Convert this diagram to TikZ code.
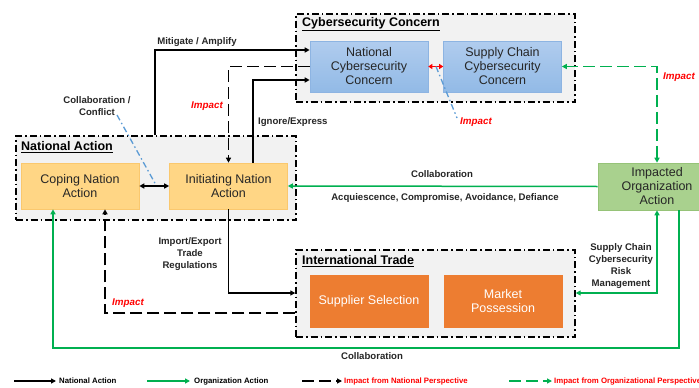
\documentclass[tikz,border=0pt]{standalone}
\usepackage{fontspec}
\setmainfont{Liberation Sans}
\usetikzlibrary{arrows.meta,calc}

\definecolor{grpfill}{RGB}{242,242,242}
\definecolor{cybertop}{RGB}{176,204,238}
\definecolor{cyberbot}{RGB}{146,186,230}
\definecolor{cyberedge}{RGB}{141,180,226}
\definecolor{nationfill}{RGB}{255,214,133}
\definecolor{nationedge}{RGB}{250,200,110}
\definecolor{orgfill}{RGB}{169,209,142}
\definecolor{orgedge}{RGB}{150,195,120}
\definecolor{tradefill}{RGB}{237,125,49}
\definecolor{orggreen}{RGB}{0,176,80}
\definecolor{impactred}{RGB}{255,0,0}
\definecolor{linkblue}{RGB}{91,155,213}
\definecolor{boxtext}{RGB}{38,38,38}

\tikzset{
  group/.style={draw=black, line width=1.4pt, fill=grpfill,
    dash pattern=on 7pt off 3pt on 1.5pt off 3pt},
  grouptitle/.style={anchor=west, inner sep=0pt,
    font=\fontsize{12.5}{14}\selectfont\bfseries},
  box/.style={rectangle, align=center, inner sep=2pt, text=boxtext,
    font=\fontsize{12.5}{14}\selectfont},
  cyberbox/.style={box, top color=cybertop, bottom color=cyberbot,
    draw=cyberedge, line width=0.6pt,
    minimum width=118pt, minimum height=51pt},
  nationbox/.style={box, fill=nationfill, draw=nationedge, line width=0.6pt,
    minimum width=118pt, minimum height=46pt},
  orgbox/.style={box, fill=orgfill, draw=orgedge, line width=0.6pt,
    minimum width=118pt, minimum height=47pt},
  tradebox/.style={box, fill=tradefill, draw=tradefill, text=white,
    minimum width=118pt, minimum height=52pt},
  lbl/.style={align=center, inner sep=0pt, text=boxtext,
    font=\fontsize{9.6}{12}\selectfont\bfseries},
  implbl/.style={inner sep=0pt, text=impactred,
    font=\fontsize{9.8}{12}\selectfont\bfseries\itshape},
  leglbl/.style={anchor=west, inner sep=0pt,
    font=\fontsize{7.8}{9}\selectfont\bfseries},
  tip/.style={-{Triangle[length=5pt,width=5pt]}},
  bothtips/.style={{Triangle[length=5pt,width=5pt]}-{Triangle[length=5pt,width=5pt]}},
  nat/.style={draw=black, line width=1.5pt, tip},
  org/.style={draw=orggreen, line width=1.5pt, tip},
  natimp/.style={draw=black, line width=1.7pt, dash pattern=on 12pt off 5pt, tip},
  orgimp/.style={draw=orggreen, line width=1.7pt, dash pattern=on 12pt off 5pt, tip},
  relation/.style={draw=linkblue, line width=1.3pt,
    dash pattern=on 6pt off 3pt on 1.5pt off 3pt}
}

\begin{document}
\begin{tikzpicture}[x=1pt,y=-1pt]
\useasboundingbox[fill=white] (0,0) rectangle (699,388);

% ---- groups ----
\node[group, minimum width=279pt, minimum height=88pt] (cybgrp) at (435.5,58) {};
\node[group, minimum width=280pt, minimum height=84pt] (natgrp) at (156,178) {};
\node[group, minimum width=279pt, minimum height=87pt] (trdgrp) at (435.5,293.5) {};

\node[grouptitle] (cybtitle) at (302,24) {\underline{Cybersecurity Concern}};
\node[grouptitle] (nattitle) at (21,147) {\underline{National Action}};
\node[grouptitle] (trdtitle) at (302,261) {\underline{International Trade}};

% ---- boxes ----
\node[cyberbox] (natcyb) at (369,66.5) {National\\Cybersecurity\\Concern};
\node[cyberbox] (supcyb) at (502.5,66.5) {Supply Chain\\Cybersecurity\\Concern};
\node[nationbox] (coping) at (80,186) {Coping Nation\\Action};
\node[nationbox] (initiating) at (228.5,186) {Initiating Nation\\Action};
\node[orgbox] (impacted) at (657,186.5) {Impacted\\Organization\\Action};
\node[tradebox] (supsel) at (369,301) {Supplier Selection};
\node[tradebox] (market) at (503,301) {Market\\Possession};

% ---- bend points ----
\coordinate (mitigate) at (155,50);
\coordinate (ignore) at (253,80);
\coordinate (natimpact) at (228.5,66.5);
\coordinate (orgimpact) at (657,66.5);
\coordinate (trade) at (228.5,293);
\coordinate (tradeimpact) at (105,313);
\coordinate (riskmgmt) at (657,293);
\coordinate (collabR) at (679,348);
\coordinate (collabL) at (53,348);

% ---- national actions ----
\draw[nat] (natgrp.north -| mitigate) -- (mitigate) -- (natcyb.west |- mitigate);
\draw[nat] (initiating.north -| ignore) -- (ignore) -- (natcyb.west |- ignore);
\draw[nat] (initiating.south) -- (trade) -- (trdgrp.west |- trade);
\draw[nat, bothtips] (coping.east) -- (initiating.west);

% ---- impacts ----
\draw[natimp] (natcyb.west) -- (natimpact) -- (initiating.north);
\draw[natimp] (trdgrp.west |- tradeimpact) -- (tradeimpact) -- (coping.south -| tradeimpact);
\draw[orgimp, bothtips] (supcyb.east) -- (orgimpact) -- (impacted.north);
\draw[draw=impactred, line width=1.5pt,
  {Triangle[length=4pt,width=5pt]}-{Triangle[length=4pt,width=5pt]}]
  (natcyb.east) -- (supcyb.west);

% ---- organization actions ----
\draw[org] (impacted.west) -- (initiating.east);
\draw[org, bothtips] (impacted.south) -- (riskmgmt) -- (trdgrp.east |- riskmgmt);
\draw[org] (impacted.south -| collabR) -- (collabR) -- (collabL) -- (coping.south -| collabL);

% ---- relations ----
\coordinate (relA) at (436,66.5);
\coordinate (relB) at (457,118);
\coordinate (relC) at (117,115);
\coordinate (relD) at (156,185);
\draw[relation] (relA) -- (relB);
\draw[relation] (relC) -- (relD);

% ---- labels ----
\node[lbl] (lmitigate) at (197,42) {Mitigate / Amplify};
\node[lbl, anchor=west] (lignore) at (258,122) {Ignore/Express};
\node[lbl] (lcollabconf) at (97,106) {Collaboration /\\Conflict};
\node[lbl] (lcollab) at (442,174) {Collaboration};
\node[lbl] (lresp) at (445,198) {Acquiescence, Compromise, Avoidance, Defiance};
\node[lbl] (ltrade) at (190,254) {Import/Export\\Trade\\Regulations};
\node[lbl] (lrisk) at (621,266) {Supply Chain\\Cybersecurity\\Risk\\Management};
\node[lbl] (lcollab2) at (372,356) {Collaboration};
\node[implbl] (limp1) at (207,106) {Impact};
\node[implbl] (limp2) at (476,122) {Impact};
\node[implbl] (limp3) at (679,77) {Impact};
\node[implbl] (limp4) at (128,303) {Impact};

% ---- legend ----
\coordinate (la1) at (14,381);   \coordinate (la2) at (56,381);
\coordinate (lb1) at (147,381);  \coordinate (lb2) at (190,381);
\coordinate (lc1) at (302,381);  \coordinate (lc2) at (342,381);
\coordinate (ld1) at (509,381);  \coordinate (ld2) at (552,381);
\draw[nat, line width=1.3pt] (la1) -- (la2);
\node[leglbl] (legnat) at (59,381) {National Action};
\draw[org, line width=1.3pt] (lb1) -- (lb2);
\node[leglbl] (legorg) at (194,381) {Organization Action};
\draw[natimp, line width=1.3pt] (lc1) -- (lc2);
\node[leglbl, text=impactred] (legnatimp) at (344,381) {Impact from National Perspective};
\draw[orgimp, line width=1.3pt] (ld1) -- (ld2);
\node[leglbl, text=impactred] (legorgimp) at (554,381) {Impact from Organizational Perspective};
\end{tikzpicture}
\end{document}
